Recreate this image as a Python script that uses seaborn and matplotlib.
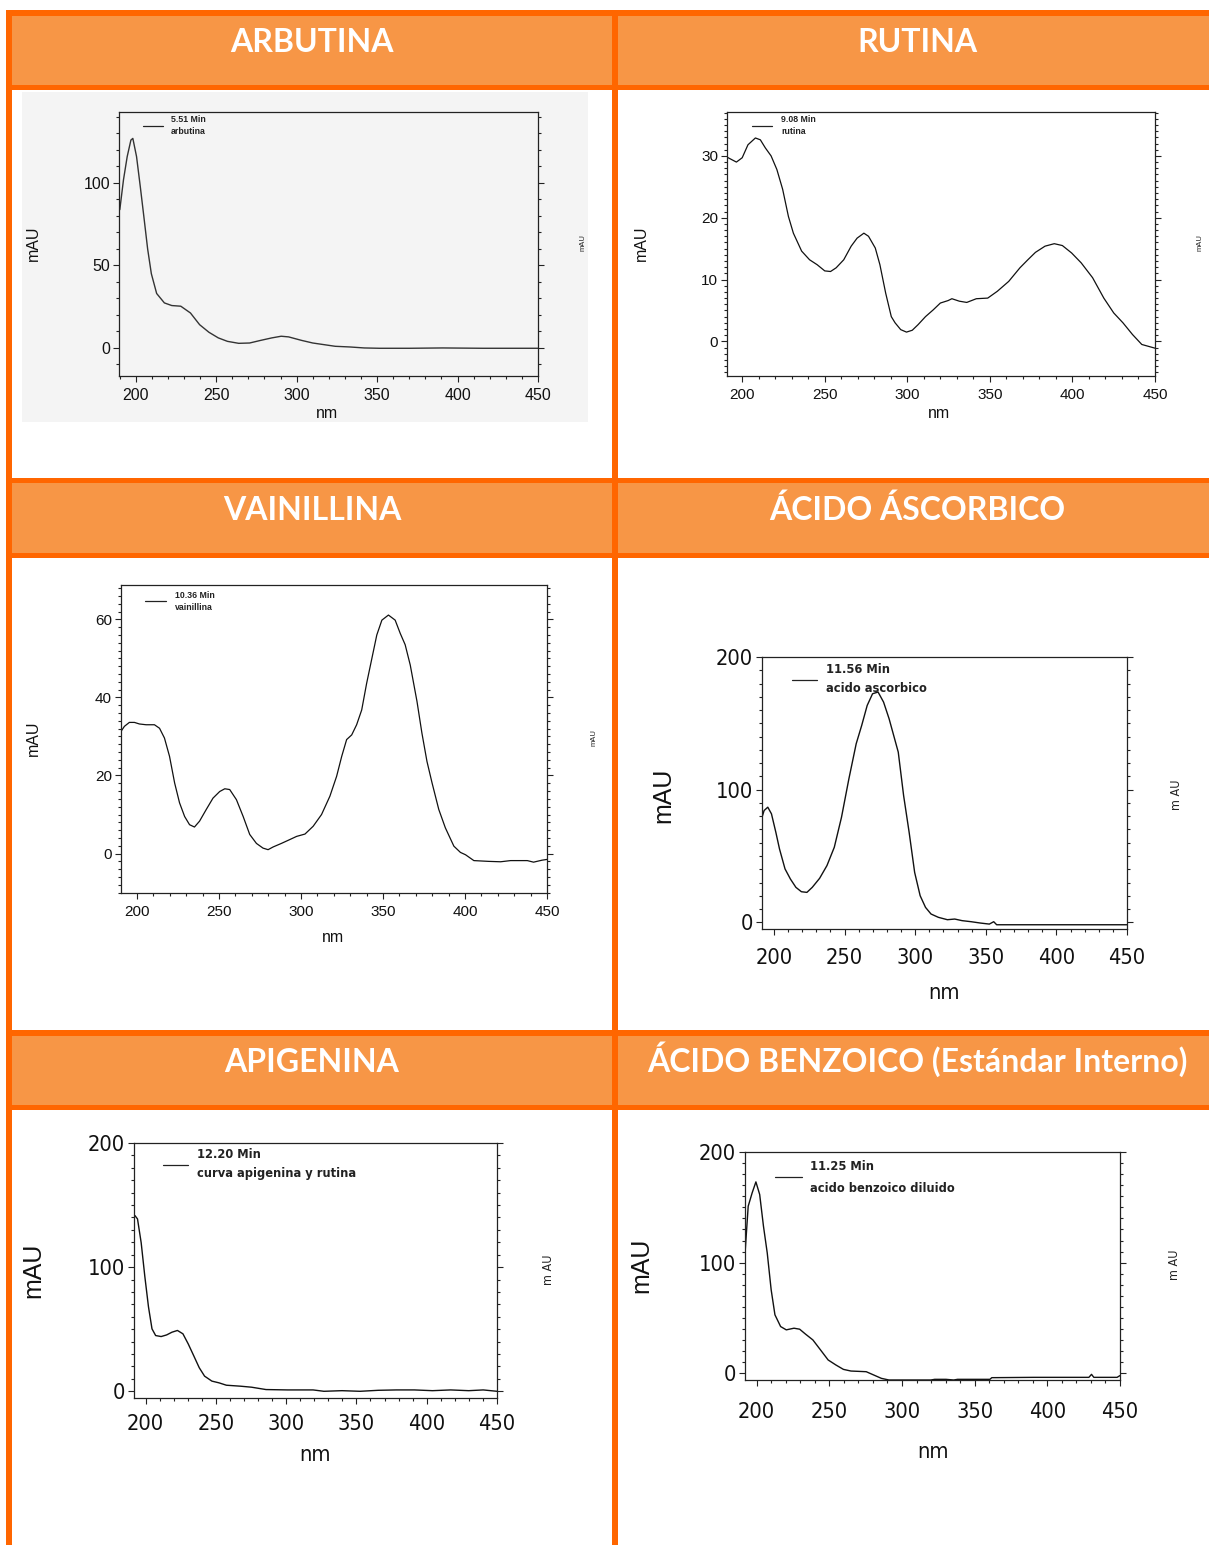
import numpy as np
import pandas as pd
import matplotlib
matplotlib.use("Agg")
import matplotlib.pyplot as plt
import seaborn as sns
from matplotlib.patches import Rectangle
from matplotlib.lines import Line2D
from matplotlib.ticker import MultipleLocator
from matplotlib import font_manager

# ---------------------------------------------------------------- data
titles = ["ARBUTINA", "RUTINA", "VAINILLINA", "ÁCIDO ÁSCORBICO",
          "APIGENINA", "ÁCIDO BENZOICO (Estándar Interno)"]
legend_time = ["5.51 Min", "9.08 Min", "10.36 Min", "11.56 Min", "12.20 Min", "11.25 Min"]
legend_name = ["arbutina", "rutina", "vainillina", "acido ascorbico",
               "curva apigenina y rutina", "acido benzoico diluido"]

arbutina_nm = [190.1, 192.4, 194.7, 197, 198.2, 200.5, 202.8, 205, 207.4, 209.7, 213, 217.8,
               222.4, 228, 234, 239.7, 245.5, 251.3, 257, 264, 270.8, 277.7, 284.6, 290.4,
               295, 303, 310, 317, 324, 333, 342, 351.5, 370, 390.7, 416, 450]
arbutina_mau = [83.8, 102, 116, 126, 127, 116, 98, 80, 60, 45, 33, 27.3,
                25.7, 25.3, 21.2, 14.1, 9.5, 6.1, 4.0, 2.8, 3.0, 4.6, 6.1, 7.1,
                6.7, 4.6, 3.0, 2.0, 1.0, 0.6, 0.0, -0.2, -0.2, 0.0, -0.2, -0.2]

rutina_nm = [190.8, 196.5, 200, 203.5, 208, 211, 214, 217.5, 221, 224.5, 228, 231, 236,
             240.8, 245.4, 250, 253.5, 256.9, 261.5, 266, 269.6, 273.7, 276.5, 280.6,
             283.4, 286.9, 290.3, 292.6, 296, 299.5, 303, 306.5, 311, 315.7, 320, 324.7,
             327, 331.5, 336, 341.8, 348.7, 354.5, 361.4, 368.2, 373, 377.6, 383.4, 389,
             393.9, 399.5, 405.3, 412.2, 419, 425, 430.6, 436.4, 442, 450]
rutina_mau = [29.8, 29.0, 29.7, 31.8, 32.9, 32.6, 31.3, 30.0, 27.8, 24.6, 20.2, 17.5, 14.6,
              13.2, 12.4, 11.4, 11.3, 11.9, 13.2, 15.4, 16.7, 17.5, 17.0, 15.1,
              12.4, 7.8, 4.0, 3.0, 1.9, 1.5, 1.8, 2.7, 4.0, 5.1, 6.2, 6.6,
              6.9, 6.5, 6.3, 6.9, 7.0, 8.1, 9.7, 11.9, 13.2, 14.4, 15.4, 15.8,
              15.5, 14.3, 12.7, 10.3, 7.0, 4.6, 3.0, 1.1, -0.5, -1.1]

vainillina_nm = [190.2, 192.3, 195.3, 198.4, 201.4, 205.5, 210.6, 213.7, 216.7, 219.8, 222.9,
                 225.9, 229, 232, 235, 238.1, 242.2, 246.3, 250.4, 253.5, 256.5, 260.6,
                 264.7, 268.7, 272.8, 276.8, 279.9, 283, 288, 293.2, 297.3, 302.4, 307.4,
                 312.5, 317.6, 321.7, 324.8, 327.8, 330.9, 333.9, 337, 340, 343.2, 346.2,
                 349.3, 353.3, 357.4, 360.5, 363.5, 366.6, 370.7, 373.7, 376.8, 379.9, 384,
                 388, 393.2, 397.2, 400.3, 405.4, 414.5, 421.7, 427.8, 438, 441.8, 446.9, 450]
vainillina_mau = [31.3, 32.6, 33.6, 33.6, 33.2, 33.0, 33.0, 32.1, 29.6, 24.9, 18.1,
                  13.0, 9.5, 7.4, 6.8, 8.3, 11.3, 14.2, 15.9, 16.6, 16.4, 13.8,
                  9.5, 4.9, 2.6, 1.4, 1.0, 1.7, 2.6, 3.6, 4.4, 5.0, 7.0,
                  10.0, 14.7, 19.8, 24.9, 29.2, 30.4, 33.0, 36.8, 43.6, 50.0, 56.0,
                  59.8, 61.1, 59.8, 56.4, 53.5, 48.3, 39.0, 30.9, 23.6, 18.1, 11.3,
                  6.6, 1.9, 0.3, -0.3, -1.8, -2.0, -2.1, -1.8, -1.8, -2.2, -1.7, -1.5]

ascorbico_nm = [191.5, 193, 195.6, 198.2, 201.3, 203.9, 207.8, 211.6, 215.5, 219.4, 223.3,
                227.1, 232.3, 237.5, 242.7, 247.8, 253, 258.2, 262.1, 266, 269.8, 273.7,
                277.6, 281.5, 285.4, 288, 291.8, 295.7, 299.6, 303.5, 307.3, 311.2, 316.4,
                322.8, 328, 333.2, 339.6, 346.1, 352.5, 355.6, 357.7, 384.8, 450]
ascorbico_mau = [79.2, 84.3, 86.8, 81.8, 67.9, 55.3, 40.3, 32.7, 26.4, 23.1, 22.6,
                 26.4, 33.2, 42.8, 56.6, 79.2, 108, 134.6, 148.4, 163.5, 172.3, 173.6,
                 166, 153.5, 138.4, 128.3, 95.5, 67.9, 37.7, 20.1, 11.3, 6.3, 3.8,
                 2.0, 2.5, 1.3, 0.5, -0.5, -1.3, 0.5, -1.8, -1.8, -1.8]

apigenina_nm = [192.5, 194.3, 196.9, 199.5, 202.1, 204.6, 207.2, 211.1, 215, 218.8, 222.7,
                226.6, 230.4, 234.3, 238.2, 242, 247.2, 252.3, 257.5, 267.7, 275.4, 285.7,
                301.2, 319.2, 326.9, 339.7, 352.6, 365.5, 378.4, 391.2, 404.1, 417, 429.9,
                440.2, 450]
apigenina_mau = [141.5, 138.8, 119.7, 92.5, 68, 50.3, 44.9, 44.1, 45.4, 47.6, 49,
                 46.3, 38.1, 28.6, 19, 12.2, 8.2, 6.8, 4.9, 4.1, 3.3, 1.4,
                 1.1, 1.1, 0.0, 0.5, 0.0, 0.8, 1.1, 1.1, 0.5, 1.1, 0.5,
                 1.1, 0.0]

benzoico_nm = [192.1, 194.2, 196.9, 199.5, 202.1, 204.7, 207.3, 210, 212.6, 216.5, 220.4,
               225.7, 229.6, 233.5, 238.7, 244, 249.2, 254.5, 259.7, 264.9, 275.4, 280.6,
               285.8, 291, 319.9, 322.5, 330.3, 335.6, 338.2, 360.5, 361.8, 390.6, 428.6,
               430.4, 432, 448, 450]
benzoico_mau = [110, 151, 163, 173, 161.6, 133, 108.8, 75.5, 52.9, 42.3, 39.3,
                40.8, 39.9, 35.6, 30.2, 21.1, 12.1, 7.6, 3.6, 2.1, 1.5, -1.5,
                -4.5, -6, -6, -5.4, -5.4, -6, -5.4, -5.4, -3.9, -3.6, -3.6,
                -0.9, -3.6, -3.6, -2.0]

spectra = [(arbutina_nm, arbutina_mau), (rutina_nm, rutina_mau),
           (vainillina_nm, vainillina_mau), (ascorbico_nm, ascorbico_mau),
           (apigenina_nm, apigenina_mau), (benzoico_nm, benzoico_mau)]

# ---------------------------------------------------------------- fonts
sns.set_style("ticks")
plt.rcParams["font.family"] = ["Liberation Sans", "DejaVu Sans"]

_fonts = font_manager.fontManager.ttflist
_names = {f.name for f in _fonts}
if "Liberation Sans Narrow" in _names:
    NARROW = dict(family="Liberation Sans Narrow")
    NSCALE = 1.0
elif any(f.name == "DejaVu Sans" and str(f.stretch) == "condensed" for f in _fonts):
    NARROW = dict(family="DejaVu Sans", stretch="condensed")
    NSCALE = 0.92
else:
    NARROW = dict(family="Liberation Sans")
    NSCALE = 0.85
WIDE = dict(family="Liberation Sans")

# ---------------------------------------------------------------- figure
W, H = 1209, 1545
fig = plt.figure(figsize=(W / 100, H / 100), dpi=100)
fig.patch.set_facecolor("white")

BORDER = "#FF6600"
HEADER = "#F79646"


def fx(x):
    return x / W


def fy(y):
    return 1 - y / H


def rect(x0, y0, x1, y1, color, z=-2):
    fig.add_artist(Rectangle((fx(x0), fy(y1)), (x1 - x0) / W, (y1 - y0) / H,
                             transform=fig.transFigure, facecolor=color,
                             edgecolor="none", zorder=z))


# table frame: header bands and orange rules
for top, bot in [(16, 85), (483, 553), (1036, 1105)]:
    rect(12, top, W, bot, HEADER)
for y0, y1 in [(10, 16), (85, 90), (478, 483), (553, 558), (1030, 1036), (1105, 1110)]:
    rect(6, y0, W, y1, BORDER, z=-1)
rect(6, 10, 12, H, BORDER, z=-1)
rect(612, 10, 618, H, BORDER, z=-1)

header_pos = [(312, 52), (917, 52), (312, 520), (917, 520), (312, 1072), (917, 1072)]
for (x, y), t in zip(header_pos, titles):
    fig.text(fx(x), fy(y), t, ha="center", va="baseline", color="white",
             fontsize=23, fontweight="bold", family=["Lato", "DejaVu Sans"])

# scanned background behind the first spectrum
rect(22, 92, 588, 422, "#F4F4F4", z=-1.5)

# ---------------------------------------------------------------- panels
panels = [
    dict(box=(119, 112, 538, 376), xlim=(189.6, 450), ylim=(-17, 143), ymaj=50, ymin=10,
         font=WIDE, fs=11.5, xpad=4, ypad=2, lc="#333333", lw=1.0,
         ylab=(33, 243, 11.5), xlab=(327, 413, 11.5), rlab=(583, 243, 5.5, "mAU"),
         leg=(143, 163, 126, 171, 120, 132, 6.3), legfont=WIDE),
    dict(box=(727, 112, 1155, 376), xlim=(190.8, 450), ylim=(-5.6, 37.1), ymaj=10, ymin=1,
         font=WIDE, fs=11, xpad=4, ypad=2, lc="#111111", lw=0.9,
         ylab=(641, 243, 11.5), xlab=(939, 413, 11.5), rlab=(1200, 243, 5.5, "mAU"),
         leg=(752, 772, 126, 781, 120, 132, 6.3), legfont=WIDE),
    dict(box=(121, 585, 547, 893), xlim=(190.2, 450), ylim=(-10.1, 68.8), ymaj=20, ymin=2,
         font=WIDE, fs=11, xpad=4, ypad=2, lc="#111111", lw=0.9,
         ylab=(33, 738, 11.5), xlab=(333, 938, 11.5), rlab=(594, 738, 5.5, "mAU"),
         leg=(145, 166, 601, 175, 595, 608, 6.3), legfont=WIDE),
    dict(box=(762, 657, 1127, 929), xlim=(191.5, 450), ylim=(-5, 200), ymaj=100, ymin=10,
         font=NARROW, fs=17 * NSCALE, xpad=9, ypad=2, lc="#111111", lw=1.0,
         ylab=(663, 795, 18), xlab=(944, 993, 17 * NSCALE), rlab=(1177, 795, 9, "m AU"),
         leg=(792, 817, 680, 826, 669, 689, 10 * NSCALE), legfont=NARROW),
    dict(box=(134, 1143, 497, 1398), xlim=(191.8, 450), ylim=(-5.4, 200), ymaj=100, ymin=10,
         font=NARROW, fs=17 * NSCALE, xpad=7, ypad=2, lc="#111111", lw=1.0,
         ylab=(33, 1270, 18), xlab=(315, 1455, 17 * NSCALE), rlab=(548, 1270, 9, "m AU"),
         leg=(163, 188, 1165, 197, 1155, 1173, 10 * NSCALE), legfont=NARROW),
    dict(box=(745, 1152, 1120, 1380), xlim=(192, 450), ylim=(-6, 200), ymaj=100, ymin=10,
         font=NARROW, fs=17 * NSCALE, xpad=11, ypad=2, lc="#111111", lw=1.0,
         ylab=(641, 1265, 18), xlab=(933, 1452, 17 * NSCALE), rlab=(1175, 1265, 9, "m AU"),
         leg=(775, 802, 1177, 810, 1166, 1188, 10 * NSCALE), legfont=NARROW),
]

for p, (wl, mau), t_time, t_name in zip(panels, spectra, legend_time, legend_name):
    l, t, r, b = p["box"]
    ax = fig.add_axes([fx(l), fy(b), (r - l) / W, (b - t) / H])
    ax.set_facecolor("none")

    df = pd.DataFrame({"nm": wl, "mAU": mau})
    sns.lineplot(data=df, x="nm", y="mAU", ax=ax, color=p["lc"], linewidth=p["lw"],
                 estimator=None, sort=False, legend=False)
    ax.set_xlabel("")
    ax.set_ylabel("")
    ax.set_xlim(*p["xlim"])
    ax.set_ylim(*p["ylim"])

    ax.xaxis.set_major_locator(MultipleLocator(50))
    ax.xaxis.set_minor_locator(MultipleLocator(10))
    ax.yaxis.set_major_locator(MultipleLocator(p["ymaj"]))
    ax.yaxis.set_minor_locator(MultipleLocator(p["ymin"]))
    ax.tick_params(which="both", direction="out", top=False, right=True,
                   labelright=False, width=0.8, color="#222222")
    ax.tick_params(which="major", length=4.5)
    ax.tick_params(which="minor", length=2.5)
    ax.tick_params(axis="x", which="major", pad=p["xpad"])
    ax.tick_params(axis="y", which="major", pad=p["ypad"])
    for s in ax.spines.values():
        s.set_visible(True)
        s.set_linewidth(0.9)
        s.set_color("#222222")
    for lab in ax.get_xticklabels() + ax.get_yticklabels():
        lab.set_color("#111111")
        lab.set_fontproperties(font_manager.FontProperties(size=p["fs"], **p["font"]))

    # axis titles
    yx, yy, ys = p["ylab"]
    fig.text(fx(yx), fy(yy), "mAU", rotation=90, ha="center", va="center",
             fontsize=ys, color="#111111", **WIDE)
    xx, xy, xs = p["xlab"]
    fig.text(fx(xx), fy(xy), "nm", ha="center", va="center", fontsize=xs,
             color="#111111", **p["font"])
    rx, ry, rs, rt = p["rlab"]
    fig.text(fx(rx), fy(ry), rt, rotation=90, ha="center", va="center",
             fontsize=rs, color="#222222", **p["font"])

    # legend entry
    lx0, lx1, ly, tx, ty1, ty2, ls = p["leg"]
    fig.add_artist(Line2D([fx(lx0), fx(lx1)], [fy(ly), fy(ly)], transform=fig.transFigure,
                          color="#222222", linewidth=0.9))
    fig.text(fx(tx), fy(ty1), t_time, ha="left", va="center", fontsize=ls,
             fontweight="bold", color="#222222", **p["legfont"])
    fig.text(fx(tx), fy(ty2), t_name, ha="left", va="center", fontsize=ls,
             fontweight="bold", color="#222222", **p["legfont"])

fig.savefig("out.png", dpi=100, facecolor="white")
